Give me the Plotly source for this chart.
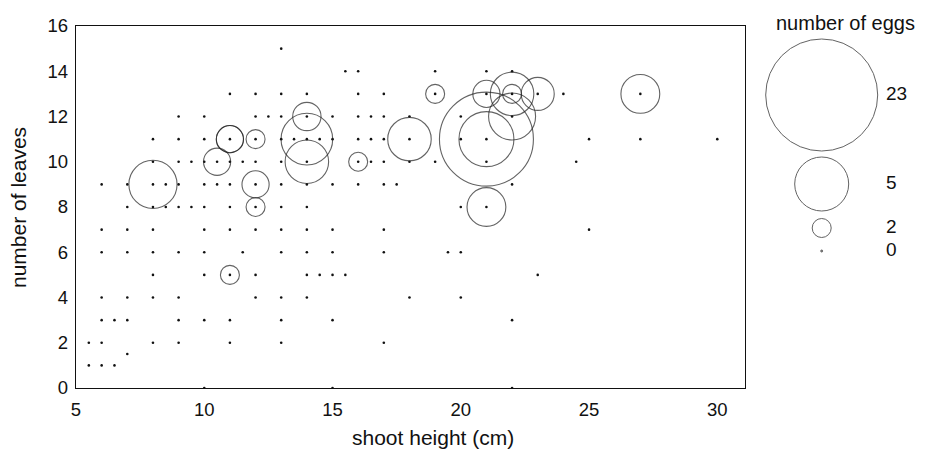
import numpy as np
import plotly.graph_objects as go

# ---------------- data ----------------
# shoot heights (cm) observed at each number of leaves
heights_by_leaves = {
    15: [13],
    14: [15.5, 16, 19, 21, 22],
    13: [11, 12, 13, 14, 16, 17, 19, 21, 22, 23, 24, 27],
    12: [9, 10, 12, 12.5, 13, 14, 15, 16, 16.5, 17, 18, 20, 22],
    11: [8, 9, 10, 11, 12, 13, 13.5, 14, 14.5, 15, 16, 16.5, 17, 18, 20, 21, 25, 27, 30],
    10: [8, 9, 9.5, 10, 10.5, 11, 11.5, 12, 13, 14, 16, 16.5, 17, 18, 19, 21, 24.5],
    9: [6, 7, 8, 8.5, 9, 10, 10.5, 11, 12, 13, 14, 15, 16, 17, 17.5, 22],
    8: [7, 8, 8.5, 9, 9.5, 10, 11, 12, 13, 14, 20, 21],
    7: [6, 7, 8, 10, 11, 12, 13, 14, 15, 17, 25],
    6: [6, 7, 8, 9, 10, 11.5, 13, 14, 15, 17, 19.5, 20],
    5: [8, 10, 11, 12, 14, 14.5, 15, 15.5, 23],
    4: [6, 7, 8, 9, 12, 13, 14, 18, 20],
    3: [6, 6.5, 7, 9, 10, 11, 13, 15, 22],
    2: [5.5, 6, 8, 9, 11, 13, 17],
    1.5: [7],
    1: [5.5, 6, 6.5],
    0: [10, 15, 22],
}

# plants carrying eggs
egg_height = [8, 10.5, 11, 11, 12, 12, 12, 11, 14, 14, 14, 16, 18, 19, 21, 21, 21, 21, 22, 22, 22, 23, 27]
egg_leaves = [9, 10, 11, 11, 11, 9, 8, 5, 12, 11, 10, 10, 11, 13, 13, 11, 11, 8, 13, 13, 12, 13, 13]
egg_count = [4.5, 2.7, 2.7, 2.7, 2, 2.7, 2, 2, 2.8, 4.8, 4.1, 2, 4.1, 2, 2.7, 17.4, 5.3, 3.7, 2, 4.1, 4.4, 3.2, 3.7]

# size key
key_eggs = [23, 5, 2, 0]
key_labels = ["23", "5", "2", "0"]

x_ticks = [5, 10, 15, 20, 25, 30]
y_ticks = [0, 2, 4, 6, 8, 10, 12, 14, 16]

# ---------------- styling ----------------
KEY_SCALE_EGGS = [0, 2, 5, 23]
KEY_SCALE_DIAM = [2, 19, 54, 112]


def diameter(e):
    return np.interp(np.asarray(e, dtype=float), KEY_SCALE_EGGS, KEY_SCALE_DIAM)


FONT = "Liberation Sans, Arial, sans-serif"
INK = "#111111"
PAGE_OFF = 8          # default page margin around the figure
W, H = 930, 451
L, T = 76 - PAGE_OFF, 26 - PAGE_OFF
plot_h = 362
B = H - T - plot_h
R = 0
plot_w = W - L - R
main_right = 745 - PAGE_OFF
main_dom = (main_right - L) / plot_w


def px_x(page_px):
    return (page_px - PAGE_OFF - L) / plot_w


def px_y(page_py):
    return (T + plot_h - (page_py - PAGE_OFF)) / plot_h


all_x, all_y = [], []
for lv, hs in heights_by_leaves.items():
    for h in hs:
        all_x.append(h)
        all_y.append(lv)

fig = go.Figure()

fig.add_trace(go.Scatter(
    x=all_x, y=all_y, mode="markers",
    marker=dict(size=2.6, color=INK, line=dict(width=0)),
    hoverinfo="x+y", showlegend=False,
))

fig.add_trace(go.Scatter(
    x=egg_height, y=egg_leaves, mode="markers",
    marker=dict(size=diameter(egg_count), color="rgba(0,0,0,0)",
                line=dict(color="#222222", width=1.1)),
    showlegend=False,
))

# size key on its own axes (y2 measured in pixels from the top of the plot)
key_y_page = [95, 184, 228, 251]
key_y = [p - PAGE_OFF - T for p in key_y_page]
key_x_page = 821.7
dom2_lo = main_dom + 0.005
x2_left = L + dom2_lo * plot_w          # figure px
x2_span = W - x2_left
key_x_fig = key_x_page - PAGE_OFF
fig.add_trace(go.Scatter(
    x=[0] * len(key_eggs), y=key_y, mode="markers",
    marker=dict(size=diameter(key_eggs),
                color=["rgba(0,0,0,0)"] * 3 + ["#555555"],
                line=dict(color="#222222", width=1.0)),
    xaxis="x2", yaxis="y2", showlegend=False, hoverinfo="skip",
))
fig.add_trace(go.Scatter(
    x=[(886 - key_x_page) / x2_span] * len(key_eggs), y=key_y,
    mode="text", text=key_labels, textposition="middle right",
    textfont=dict(family=FONT, size=19, color=INK),
    xaxis="x2", yaxis="y2", showlegend=False, hoverinfo="skip",
))

axis_common = dict(
    showgrid=False, zeroline=False, ticks="", automargin=False,
    showline=True, linecolor=INK, linewidth=1.3, mirror=True,
    tickfont=dict(size=18.5, color=INK),
)

fig.update_layout(
    width=W, height=H,
    margin=dict(l=L, r=R, t=T, b=B, pad=0),
    paper_bgcolor="white", plot_bgcolor="white",
    font=dict(family=FONT, size=16, color=INK),
    xaxis=dict(
        domain=[0, main_dom], range=[5, 31.08],
        tickvals=x_ticks, ticktext=[str(v) for v in x_ticks],
        ticklabelstandoff=5, **axis_common,
    ),
    yaxis=dict(
        range=[0, 16],
        tickvals=y_ticks, ticktext=[str(v) for v in y_ticks],
        ticklabelstandoff=3, **axis_common,
    ),
    xaxis2=dict(
        domain=[dom2_lo, 1], anchor="y2", automargin=False,
        range=[-(key_x_fig - x2_left) / x2_span, (W - key_x_fig) / x2_span],
        visible=False,
    ),
    yaxis2=dict(
        domain=[0, 1], anchor="x2", range=[plot_h, 0], visible=False,
        automargin=False,
    ),
    annotations=[
        dict(text="shoot height (cm)", xref="paper", yref="paper",
             x=px_x(433), y=px_y(437), xanchor="center", yanchor="middle",
             showarrow=False, font=dict(family=FONT, size=21, color=INK)),
        dict(text="number of leaves", xref="paper", yref="paper",
             x=px_x(19), y=px_y(208), xanchor="center", yanchor="middle",
             textangle=-90, showarrow=False,
             font=dict(family=FONT, size=21, color=INK)),
        dict(text="number of eggs", xref="paper", yref="paper",
             x=px_x(845.5), y=px_y(22.5), xanchor="center", yanchor="middle",
             showarrow=False, font=dict(family=FONT, size=20, color=INK)),
    ],
)

fig.write_html("out.html")
